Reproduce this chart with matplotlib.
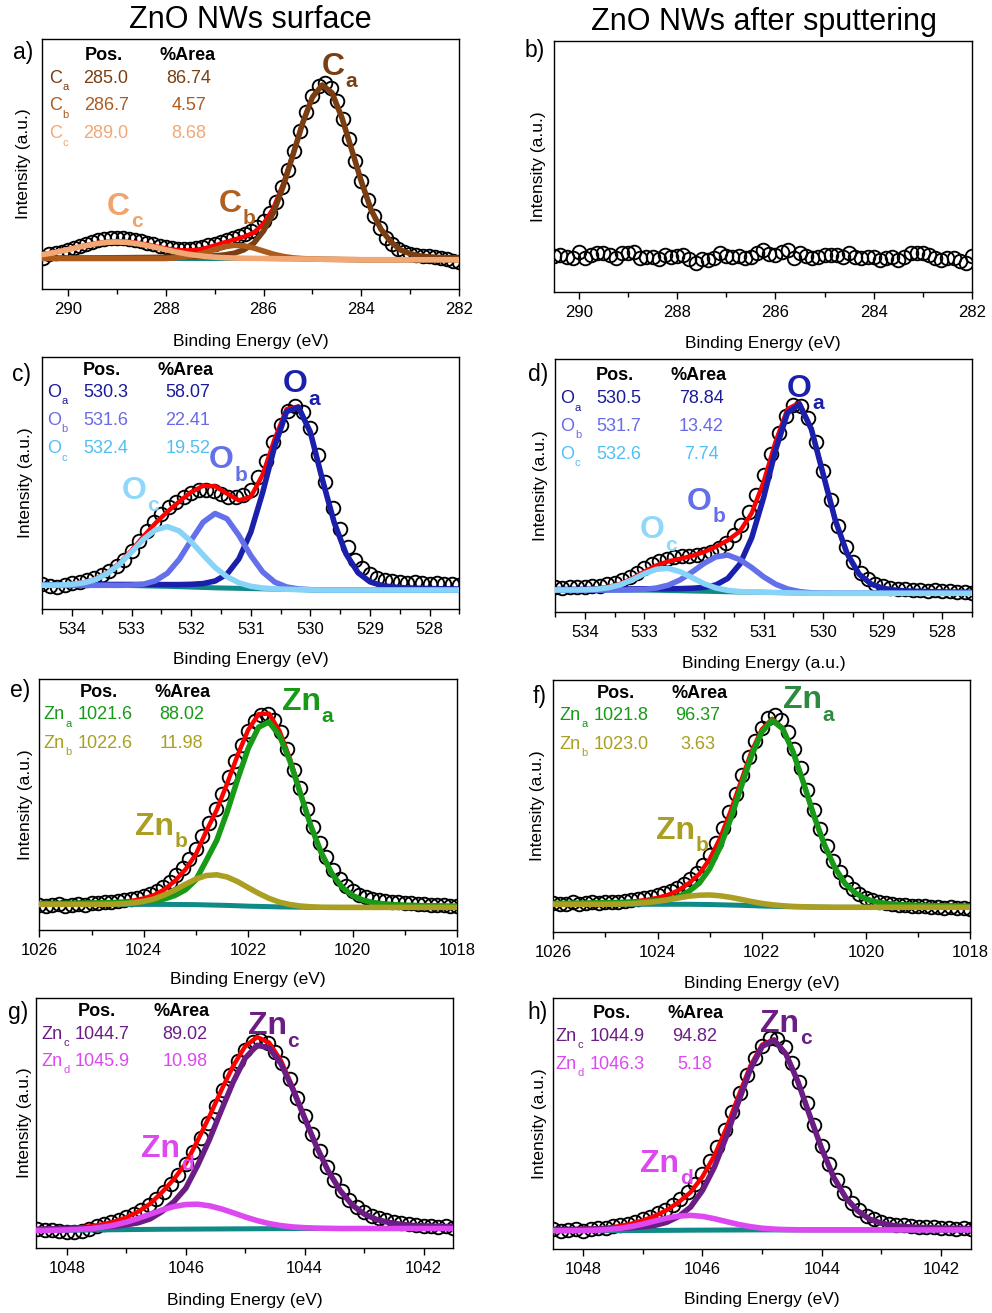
import numpy as np
import matplotlib
matplotlib.use("Agg")
from matplotlib import pyplot as plt
from matplotlib.ticker import MultipleLocator, FormatStrFormatter

plt.rcParams['font.family'] = ['Liberation Sans', 'DejaVu Sans']
plt.rcParams['mathtext.default'] = 'regular'

# intensities, in % of the panel height
# measured points every 0.125 eV, fitted curves every 0.2 eV (component height above background)

# a) C 1s, surface
a_circ_start = 290.5
a_circ = [12.6, 14.1, 14.3, 14.9, 15.6, 16.4, 17.3, 18.1, 18.9, 19.5, 19.9, 20.3, 20.4, 20.3, 20.0, 19.6,
          19.1, 18.5, 17.9, 17.3, 16.8, 16.4, 16.1, 16.0, 16.1, 16.4, 16.9, 17.5, 18.2, 18.9, 19.6, 20.4,
          21.1, 22.0, 23.2, 24.9, 27.3, 30.6, 35.0, 40.8, 47.5, 55.2, 63.4, 71.0, 77.3, 81.4, 82.6, 80.4,
          75.3, 68.2, 60.0, 51.4, 43.2, 35.8, 29.4, 24.3, 20.5, 17.9, 16.2, 15.0, 14.2, 13.7, 13.4, 13.1,
          12.8, 12.5, 12.0, 11.4, 11.0]
a_fit_start = 290.6
a_bg = [12.2, 12.2, 12.2, 12.2, 12.2, 12.2, 12.2, 12.2, 12.2, 12.2, 12.2, 12.2, 12.2, 12.2, 12.2, 12.2,
        12.2, 12.2, 12.2, 12.2, 12.2, 12.2, 12.2, 12.2, 12.15, 12.1, 12.05, 12.0, 11.95, 11.9, 11.85, 11.8,
        11.75, 11.7, 11.7, 11.7, 11.7, 11.7, 11.7, 11.7, 11.7, 11.7, 11.7, 11.7, 11.7]
a_Ca = [0.16, 0.17, 0.18, 0.2, 0.21, 0.23, 0.25, 0.27, 0.3, 0.33, 0.37, 0.4, 0.45, 0.5, 0.56, 0.63, 0.73,
        0.86, 1.08, 1.43, 2.1, 3.5, 6.1, 11.0, 18.3, 28.9, 41.5, 54.4, 64.8, 69.7, 66.6, 56.8, 44.1, 31.2,
        19.9, 12.2, 7.2, 3.9, 2.4, 1.5, 1.15, 0.9, 0.73, 0.65, 0.59]
a_Cb = [0, 0, 0, 0, 0, 0, 0, 0, 0, 0, 0, 0, 0, 0, 0.26, 0.64, 1.32, 2.35, 3.59, 4.7, 5.27, 5.08, 4.19,
        2.96, 1.79, 0.93, 0.41, 0.16, 0.05, 0, 0, 0, 0, 0, 0, 0, 0, 0, 0, 0, 0, 0, 0, 0, 0]
a_Cc = [1.32, 1.93, 2.67, 3.52, 4.41, 5.26, 5.97, 6.44, 6.6, 6.44, 5.97, 5.26, 4.41, 3.52, 2.67, 1.93,
        1.32, 0.86, 0.53, 0.31, 0.18, 0.1, 0.05, 0, 0, 0, 0, 0, 0, 0, 0, 0, 0, 0, 0, 0, 0, 0, 0, 0, 0, 0,
        0, 0, 0]
a_pos = ['285.0', '286.7', '289.0']
a_area = ['86.74', '4.57', '8.68']

# b) C 1s, after sputtering
b_circ_start = 290.5
b_circ = [14.5, 14.7, 14.1, 13.4, 16.1, 13.4, 14.7, 15.7, 15.7, 14.9, 13.4, 15.7, 15.7, 16.1, 13.4, 14.1,
          14.1, 13.0, 14.7, 14.1, 14.4, 14.7, 13.0, 11.4, 13.0, 12.7, 13.6, 15.7, 14.4, 14.1, 14.4, 13.4,
          14.1, 15.4, 16.7, 15.0, 14.7, 16.0, 16.7, 13.4, 15.4, 14.2, 13.4, 14.1, 14.7, 14.7, 14.6, 14.1,
          15.7, 14.1, 13.4, 14.1, 13.8, 12.7, 13.4, 14.1, 12.7, 14.1, 15.4, 15.7, 15.4, 14.6, 13.4, 12.7,
          13.6, 13.4, 12.2, 11.4, 14.4]

# c) O 1s, surface
c_circ_start = 534.5
c_circ = [9.8, 9.2, 8.9, 9.6, 10.3, 10.7, 11.4, 12.2, 13.4, 14.9, 17.0, 19.6, 23.0, 27.0, 30.9, 34.5,
          37.6, 40.3, 42.6, 44.6, 46.2, 47.1, 47.4, 46.8, 45.5, 44.6, 44.3, 45.2, 47.3, 52.3, 58.6, 66.2,
          73.1, 78.6, 80.7, 78.2, 72.0, 61.3, 50.4, 40.1, 31.6, 24.5, 19.6, 16.1, 13.8, 12.5, 11.6, 11.1,
          10.8, 10.5, 10.6, 10.2, 10.1, 10.3, 9.9, 9.8, 9.6]
c_fit_start = 534.6
c_bg = [9.4, 9.4, 9.4, 9.4, 9.4, 9.4, 9.4, 9.35, 9.3, 9.2, 9.1, 9.0, 8.85, 8.7, 8.55, 8.4, 8.3, 8.2, 8.1,
        8.0, 7.9, 7.8, 7.7, 7.6, 7.5, 7.5, 7.5, 7.5, 7.5, 7.5, 7.5, 7.5, 7.5, 7.5, 7.5, 7.5, 7.5]
c_Oa = [0.18, 0.19, 0.21, 0.23, 0.26, 0.29, 0.33, 0.38, 0.43, 0.51, 0.59, 0.69, 0.84, 1.1, 1.54, 2.7, 5.5,
        11.7, 22.4, 38.3, 56.6, 70.5, 72.4, 62.5, 44.0, 26.8, 14.3, 6.9, 3.3, 1.8, 1.19, 0.88, 0.73, 0.61,
        0.52, 0.45, 0.4]
c_Ob = [0, 0, 0, 0, 0, 0, 0, 0.04, 0.18, 0.65, 2.1, 5.2, 10.9, 18.6, 25.9, 29.5, 27.5, 21.0, 13.1, 6.7,
        2.8, 0.95, 0.27, 0.07, 0, 0, 0, 0, 0, 0, 0, 0, 0, 0, 0, 0, 0]
c_Oc = [0.02, 0.04, 0.12, 0.38, 1.0, 2.3, 4.8, 8.5, 13.4, 18.5, 22.3, 23.7, 22.1, 18.0, 12.9, 8.1, 4.5,
        2.2, 0.9, 0.33, 0.11, 0.03, 0, 0, 0, 0, 0, 0, 0, 0, 0, 0, 0, 0, 0, 0, 0]
c_pos = ['530.3', '531.6', '532.4']
c_area = ['58.07', '22.41', '19.52']

# d) O 1s, after sputtering
d_circ_start = 534.5
d_circ = [9.9, 9.6, 9.8, 9.7, 9.9, 10.2, 10.3, 10.9, 11.6, 12.6, 14.0, 15.6, 17.4, 18.9, 20.2, 21.1,
          21.7, 22.0, 22.3, 22.6, 23.0, 23.8, 25.2, 27.4, 30.3, 34.2, 39.6, 46.4, 54.0, 62.4, 70.6, 77.5,
          81.7, 81.6, 76.8, 67.2, 55.6, 44.1, 34.0, 25.8, 19.9, 15.6, 12.9, 11.2, 10.2, 9.6, 9.2, 9.0,
          8.7, 8.8, 8.4, 8.5, 8.2, 8.3, 7.9, 8.1, 7.7]
d_fit_start = 534.6
d_bg = [8.7, 8.7, 8.7, 8.7, 8.7, 8.7, 8.7, 8.68, 8.65, 8.6, 8.5, 8.4, 8.3, 8.2, 8.1, 8.0, 7.9, 7.85, 7.8,
        7.7, 7.6, 7.5, 7.4, 7.4, 7.4, 7.4, 7.4, 7.4, 7.4, 7.4, 7.4, 7.4, 7.4, 7.4, 7.4, 7.4, 7.4]
d_Oa = [0.2, 0.22, 0.24, 0.26, 0.3, 0.34, 0.38, 0.44, 0.51, 0.59, 0.69, 0.84, 1.09, 1.53, 2.6, 5.3, 11.0,
        21.5, 37.5, 56.3, 71.1, 74.6, 64.9, 46.9, 29.0, 15.7, 7.6, 3.7, 1.95, 1.25, 0.92, 0.76, 0.64,
        0.54, 0.47, 0.41, 0.36]
d_Ob = [0, 0, 0, 0, 0, 0, 0, 0.09, 0.3, 0.87, 2.1, 4.3, 7.5, 11.0, 13.7, 14.5, 12.8, 9.7, 6.1, 3.3, 1.5,
        0.58, 0.19, 0.05, 0, 0, 0, 0, 0, 0, 0, 0, 0, 0, 0, 0, 0]
d_Oc = [0, 0, 0, 0.09, 0.32, 0.92, 2.1, 4.1, 6.5, 8.3, 8.75, 7.5, 5.3, 3.0, 1.4, 0.55, 0.18, 0.05, 0, 0,
        0, 0, 0, 0, 0, 0, 0, 0, 0, 0, 0, 0, 0, 0, 0, 0, 0]
d_pos = ['530.5', '531.7', '532.6']
d_area = ['78.84', '13.42', '7.74']

# e) Zn 2p3/2, surface
e_circ_start = 1026.0
e_circ = [10.0, 9.6, 9.9, 10.3, 9.7, 10.1, 10.4, 10.0, 10.6, 10.9, 11.0, 11.3, 11.6, 11.9, 12.3, 12.9,
          13.5, 14.4, 15.6, 17.2, 19.3, 21.8, 24.8, 28.4, 32.4, 37.5, 42.8, 48.3, 54.3, 60.8, 67.4, 73.6,
          79.4, 83.4, 85.8, 86.1, 83.6, 78.7, 72.2, 63.9, 56.4, 48.4, 41.2, 34.5, 28.9, 24.1, 20.4, 17.5,
          15.5, 14.1, 13.0, 12.4, 11.9, 11.6, 11.2, 11.0, 10.9, 10.6, 10.5, 10.2, 10.1, 9.9, 9.8, 9.6, 9.4]
e_fit_start = 1026.2
e_bg = [10.2, 10.2, 10.2, 10.2, 10.2, 10.2, 10.2, 10.2, 10.2, 10.2, 10.2, 10.2, 10.2, 10.2, 10.18, 10.15,
        10.1, 10.0, 9.9, 9.8, 9.65, 9.5, 9.4, 9.3, 9.2, 9.15, 9.1, 9.05, 9.0, 9.0, 9.0, 9.0, 9.0, 9.0,
        9.0, 9.0, 9.0, 9.0, 9.0, 9.0, 9.0, 9.0, 9.0]
e_Zna = [0.3, 0.34, 0.37, 0.41, 0.45, 0.5, 0.56, 0.63, 0.71, 0.8, 0.94, 1.18, 1.53, 2.2, 3.6, 5.9, 9.9,
         17.8, 25.9, 37.4, 50.5, 62.8, 71.4, 73.6, 68.2, 58.2, 45.3, 32.4, 21.8, 13.6, 8.0, 4.7, 2.9, 1.9,
         1.4, 1.07, 0.87, 0.77, 0.67, 0.62, 0.54, 0.48, 0.43]
e_Znb = [0, 0, 0, 0, 0, 0, 0, 0.04, 0.1, 0.25, 0.58, 1.2, 2.2, 3.8, 5.8, 8.1, 10.2, 11.7, 12.1, 11.3, 9.6,
         7.4, 5.2, 3.3, 1.9, 0.98, 0.46, 0.19, 0.07, 0.02, 0, 0, 0, 0, 0, 0, 0, 0, 0, 0, 0, 0, 0]
e_pos = ['1021.6', '1022.6']
e_area = ['88.02', '11.98']

# f) Zn 2p3/2, after sputtering
f_circ_start = 1026.0
f_circ = [11.5, 11.0, 11.3, 11.8, 11.2, 11.6, 11.9, 11.4, 11.8, 12.1, 11.9, 12.2, 12.6, 12.9, 13.3, 13.9,
          14.5, 15.3, 16.3, 17.6, 19.2, 21.1, 23.5, 26.6, 30.4, 35.3, 41.1, 47.6, 54.8, 62.2, 69.4, 75.6,
          81.1, 84.8, 86.0, 84.2, 79.3, 72.8, 64.9, 56.3, 48.4, 40.8, 34.1, 28.2, 23.7, 19.8, 17.2, 15.1,
          13.6, 12.7, 12.0, 11.5, 11.2, 10.9, 10.7, 10.5, 10.2, 10.3, 9.9, 10.0, 9.6, 9.8, 9.5, 9.6, 9.3]
f_fit_start = 1026.2
f_bg = [11.0, 11.0, 11.0, 11.0, 11.0, 11.0, 11.0, 11.0, 11.0, 11.0, 11.0, 11.0, 11.0, 11.0, 11.0, 10.95,
        10.9, 10.8, 10.7, 10.6, 10.45, 10.3, 10.2, 10.1, 10.0, 9.95, 9.9, 9.85, 9.8, 9.8, 9.8, 9.8, 9.8,
        9.8, 9.8, 9.8, 9.8, 9.8, 9.8, 9.8, 9.8, 9.8, 9.8]
f_Zna = [0.32, 0.36, 0.39, 0.44, 0.49, 0.54, 0.61, 0.68, 0.77, 0.89, 1.1, 1.4, 1.9, 3.0, 5.1, 8.4, 14.2,
         22.8, 34.0, 46.7, 59.3, 69.0, 73.8, 70.6, 61.5, 49.3, 36.3, 24.9, 15.8, 9.4, 5.6, 3.3, 2.1, 1.5,
         1.14, 0.92, 0.8, 0.7, 0.63, 0.56, 0.5, 0.45, 0.41]
f_Znb = [0, 0, 0, 0, 0, 0, 0.03, 0.07, 0.17, 0.36, 0.68, 1.16, 1.8, 2.5, 3.2, 3.65, 3.8, 3.58, 3.06, 2.37,
         1.66, 1.05, 0.61, 0.32, 0.15, 0.06, 0, 0, 0, 0, 0, 0, 0, 0, 0, 0, 0, 0, 0, 0, 0, 0, 0]
f_pos = ['1021.8', '1023.0']
f_area = ['96.37', '3.63']

# g) Zn 2p1/2, surface
g_circ_start = 1048.5
g_circ = [7.6, 7.2, 7.4, 7.0, 6.6, 6.4, 6.9, 7.8, 8.9, 9.8, 10.5, 11.4, 12.5, 13.8, 15.3, 17.2, 19.6,
          22.4, 25.7, 29.4, 33.6, 38.6, 44.0, 50.2, 56.8, 63.2, 69.4, 74.8, 79.3, 82.3, 83.2, 82.0, 78.6,
          73.9, 67.5, 60.2, 52.9, 45.6, 38.7, 32.6, 27.4, 23.0, 19.3, 16.6, 14.4, 13.0, 11.9, 11.1, 10.5,
          10.0, 9.6, 9.3, 9.0, 8.9, 8.5, 8.7, 8.2]
g_fit_start = 1048.6
g_bg = [7.0, 7.0, 7.05, 7.1, 7.15, 7.2, 7.25, 7.3, 7.35, 7.4, 7.45, 7.5, 7.52, 7.55, 7.57, 7.6, 7.62,
        7.65, 7.67, 7.7, 7.72, 7.74, 7.76, 7.78, 7.8, 7.8, 7.8, 7.8, 7.8, 7.8, 7.8, 7.8, 7.8, 7.8, 7.8,
        7.8, 7.8]
g_Znc = [0.51, 0.57, 0.63, 0.71, 0.8, 0.92, 1.14, 1.4, 1.9, 2.7, 4.2, 7.1, 11.0, 16.4, 25.5, 35.9, 47.6,
         58.9, 68.3, 73.4, 72.4, 66.0, 55.8, 44.1, 32.7, 22.8, 15.1, 9.4, 5.8, 3.7, 2.5, 1.7, 1.26, 1.04,
         0.89, 0.78, 0.68]
g_Znd = [0, 0, 0.05, 0.13, 0.29, 0.58, 1.09, 1.88, 3.0, 4.44, 6.07, 7.71, 9.06, 9.86, 9.94, 9.27, 8.02,
         6.42, 4.75, 3.27, 2.07, 1.22, 0.67, 0.34, 0.16, 0.07, 0, 0, 0, 0, 0, 0, 0, 0, 0, 0, 0]
g_pos = ['1044.7', '1045.9']
g_area = ['89.02', '10.98']

# h) Zn 2p1/2, after sputtering
h_circ_start = 1048.5
h_circ = [7.9, 7.0, 7.5, 7.8, 7.3, 8.0, 8.4, 8.5, 9.0, 9.5, 10.1, 10.9, 11.8, 12.9, 14.2, 15.7, 17.6,
          19.8, 22.6, 26.0, 29.7, 34.9, 40.6, 47.3, 54.6, 62.1, 69.5, 75.9, 81.0, 84.0, 83.7, 80.4, 74.0,
          66.5, 58.0, 49.5, 41.2, 34.0, 27.6, 22.4, 18.5, 15.4, 13.3, 11.8, 10.8, 10.1, 9.6, 9.4, 9.0,
          8.9, 8.6, 8.7, 8.3, 8.4, 8.0, 8.2, 7.8]
h_fit_start = 1048.6
h_bg = [7.3, 7.3, 7.3, 7.3, 7.3, 7.3, 7.32, 7.35, 7.38, 7.4, 7.43, 7.46, 7.5, 7.52, 7.54, 7.56, 7.58,
        7.6, 7.6, 7.6, 7.6, 7.6, 7.6, 7.6, 7.6, 7.6, 7.6, 7.6, 7.6, 7.6, 7.6, 7.6, 7.6, 7.6, 7.6, 7.6, 7.6]
h_Znc = [0.44, 0.48, 0.54, 0.61, 0.68, 0.78, 0.91, 1.1, 1.44, 2.0, 3.2, 5.5, 9.2, 15.8, 25.1, 37.2, 50.9,
         63.9, 73.1, 75.6, 70.0, 59.0, 45.4, 32.2, 20.9, 12.9, 7.6, 4.3, 2.65, 1.75, 1.29, 1.02, 0.85,
         0.73, 0.65, 0.58, 0.52]
h_Znd = [0, 0, 0, 0.07, 0.18, 0.41, 0.85, 1.56, 2.55, 3.73, 4.86, 5.66, 5.9, 5.48, 4.54, 3.36, 2.22,
         1.32, 0.69, 0.32, 0.14, 0.05, 0, 0, 0, 0, 0, 0, 0, 0, 0, 0, 0, 0, 0, 0, 0]
h_pos = ['1044.9', '1046.3']
h_area = ['94.82', '5.18']

TEAL = '#0f8a86'
C_COL = ['#7a3e12', '#ad5b1d', '#f2a874']
O_LINE = ['#1a20ac', '#6470ea', '#88d3f8']
O_TEXT = ['#1a1a9a', '#6a6ae6', '#50c0f4']
ZN_AB = ['#179a17', '#aa9f22']
ZN_CD = ['#6b1d85', '#dd48f0']

W, H = 992.0, 1313.0


def energies(start, step, n):
    return start - step * np.arange(n)


def sub_label(ax, x, y, main, sub, color, size, subsize, dy, weight='normal', coords='data', va='baseline'):
    tr = ax.transData if coords == 'data' else ax.transAxes
    t = ax.text(x, y, main, color=color, fontsize=size, fontweight=weight, ha='left', va=va,
                transform=tr, zorder=12)
    ax.annotate(sub, xy=(1, 0), xycoords=t, xytext=(0.6, dy), textcoords='offset points',
                color=color, fontsize=subsize, fontweight=weight, ha='left', va='baseline', zorder=12)


def make_axes(px):
    l, r, t, b = px
    return fig.add_axes([l / W, 1 - b / H, (r - l) / W, (b - t) / H])


fig = plt.figure(figsize=(9.92, 13.13), dpi=100)

panels = [
    dict(px=(42.3, 459.3, 39, 289), xlim=(290.52, 282.0), major=2, minor=1,
         circ=(a_circ_start, a_circ), fit=(a_fit_start, a_bg, [a_Ca, a_Cb, a_Cc], C_COL),
         letter=('a)', 13, 53), ylab=-0.044, xlab=-0.211, xtext='Binding Energy (eV)',
         table=dict(names=['C', 'C', 'C'], subs=['a', 'b', 'c'], pos=a_pos, area=a_area, cols=C_COL,
                    x=(0.016, 0.153, 0.352, 0.148, 0.348), yh=0.933, yr=[0.843, 0.732, 0.62]),
         big=[('C', 'a', 284.81, 85.6, C_COL[0]), ('C', 'b', 286.92, 30.9, '#b0601e'),
              ('C', 'c', 289.2, 29.6, '#f0a36c')]),
    dict(px=(554.3, 972.0, 41, 292), xlim=(290.5, 282.0), major=2, minor=1,
         circ=(b_circ_start, b_circ), fit=None,
         letter=('b)', 525, 51), ylab=-0.039, xlab=-0.204, xtext='Binding Energy (eV)',
         table=None, big=[]),
    dict(px=(42.3, 459.3, 357, 609), xlim=(534.5, 527.5), major=1, minor=0.5,
         circ=(c_circ_start, c_circ), fit=(c_fit_start, c_bg, [c_Oa, c_Ob, c_Oc], O_LINE),
         letter=('c)', 12, 374), ylab=-0.040, xlab=-0.202, xtext='Binding Energy (eV)',
         table=dict(names=['O', 'O', 'O'], subs=['a', 'b', 'c'], pos=c_pos, area=c_area, cols=O_TEXT,
                    x=(0.011, 0.152, 0.349, 0.144, 0.343), yh=0.948, yr=[0.86, 0.747, 0.635]),
         big=[('O', 'a', 530.47, 86.0, O_LINE[0]), ('O', 'b', 531.71, 55.8, O_LINE[1]),
              ('O', 'c', 533.17, 43.7, '#8fd8fa')]),
    dict(px=(555.0, 972.3, 359, 612), xlim=(534.5, 527.5), major=1, minor=0.5,
         circ=(d_circ_start, d_circ), fit=(d_fit_start, d_bg, [d_Oa, d_Ob, d_Oc], O_LINE),
         letter=('d)', 528, 374), ylab=-0.035, xlab=-0.203, xtext='Binding Energy (a.u.)',
         table=dict(names=['O', 'O', 'O'], subs=['a', 'b', 'c'], pos=d_pos, area=d_area, cols=O_TEXT,
                    x=(0.012, 0.152, 0.35, 0.143, 0.344), yh=0.933, yr=[0.842, 0.732, 0.623]),
         big=[('O', 'a', 530.62, 85.1, O_LINE[0]), ('O', 'b', 532.29, 40.3, O_LINE[1]),
              ('O', 'c', 533.08, 29.1, '#8fd8fa')]),
    dict(px=(39.3, 457.0, 679, 930), xlim=(1026, 1018), major=2, minor=1,
         circ=(e_circ_start, e_circ), fit=(e_fit_start, e_bg, [e_Zna, e_Znb], ZN_AB),
         letter=('e)', 10, 691), ylab=-0.032, xlab=-0.199, xtext='Binding Energy (eV)',
         table=dict(names=['Zn', 'Zn'], subs=['a', 'b'], pos=e_pos, area=e_area, cols=ZN_AB,
                    x=(0.01, 0.157, 0.341, 0.143, 0.343), yh=0.947, yr=[0.857, 0.744]),
         big=[('Zn', 'a', 1021.36, 87.6, ZN_AB[0]), ('Zn', 'b', 1024.17, 37.8, ZN_AB[1])]),
    dict(px=(553.3, 970.2, 680, 932), xlim=(1026, 1018), major=2, minor=1,
         circ=(f_circ_start, f_circ), fit=(f_fit_start, f_bg, [f_Zna, f_Znb], ZN_AB),
         letter=('f)', 533, 696), ylab=-0.039, xlab=-0.204, xtext='Binding Energy (eV)',
         table=dict(names=['Zn', 'Zn'], subs=['a', 'b'], pos=f_pos, area=f_area, cols=ZN_AB,
                    x=(0.014, 0.162, 0.346, 0.15, 0.35), yh=0.947, yr=[0.858, 0.746]),
         big=[('Zn', 'a', 1021.6, 88.8, '#2b8a3e'), ('Zn', 'b', 1024.03, 36.9, ZN_AB[1])]),
    dict(px=(36.0, 453.3, 998, 1248), xlim=(1048.52, 1041.5), major=2, minor=1,
         circ=(g_circ_start, g_circ), fit=(g_fit_start, g_bg, [g_Znc, g_Znd], ZN_CD),
         letter=('g)', 8, 1012), ylab=-0.028, xlab=-0.208, xtext='Binding Energy (eV)',
         table=dict(names=['Zn', 'Zn'], subs=['c', 'd'], pos=g_pos, area=g_area, cols=ZN_CD,
                    x=(0.014, 0.159, 0.357, 0.147, 0.348), yh=0.948, yr=[0.855, 0.745]),
         big=[('Zn', 'c', 1044.96, 85.5, ZN_CD[0]), ('Zn', 'd', 1046.75, 36.3, ZN_CD[1])]),
    dict(px=(553.3, 971.0, 998, 1249), xlim=(1048.5, 1041.5), major=2, minor=1,
         circ=(h_circ_start, h_circ), fit=(h_fit_start, h_bg, [h_Znc, h_Znd], ZN_CD),
         letter=('h)', 527, 1013), ylab=-0.034, xlab=-0.203, xtext='Binding Energy (eV)',
         table=dict(names=['Zn', 'Zn'], subs=['c', 'd'], pos=h_pos, area=h_area, cols=ZN_CD,
                    x=(0.006, 0.153, 0.338, 0.14, 0.34), yh=0.939, yr=[0.846, 0.736]),
         big=[('Zn', 'c', 1045.03, 86.6, ZN_CD[0]), ('Zn', 'd', 1047.04, 30.8, ZN_CD[1])]),
]

for p in panels:
    ax = make_axes(p['px'])

    start, vals = p['circ']
    ax.plot(energies(start, 0.125, len(vals)), vals, 'o', ms=9.8, mfc='none', mec='black',
            mew=1.35, zorder=2)

    if p['fit'] is not None:
        fstart, bg, comps, cols = p['fit']
        ef = energies(fstart, 0.2, len(bg))
        bg = np.array(bg, dtype=float)
        envelope = bg.copy()
        for c in comps:
            envelope = envelope + np.array(c, dtype=float)
        ax.plot(ef, envelope, color='red', lw=3.2, zorder=3)
        ax.plot(ef, bg, color=TEAL, lw=3.6, zorder=4)
        for i, (c, col) in enumerate(zip(comps, cols)):
            ax.plot(ef, bg + np.array(c, dtype=float), color=col, lw=4.0, zorder=5 + i)

    ax.set_xlim(*p['xlim'])
    ax.set_ylim(0, 100)
    ax.set_yticks([])
    ax.xaxis.set_major_locator(MultipleLocator(p['major']))
    ax.xaxis.set_minor_locator(MultipleLocator(p['minor']))
    ax.xaxis.set_major_formatter(FormatStrFormatter('%.0f'))
    ax.tick_params(axis='x', which='major', direction='out', length=5, width=1.0, labelsize=12, pad=4.5)
    ax.tick_params(axis='x', which='minor', direction='out', length=3.5, width=1.0)
    for s in ax.spines.values():
        s.set_linewidth(1.0)

    ax.set_xlabel(p['xtext'], fontsize=12.5, va='center')
    ax.xaxis.set_label_coords(0.5, p['xlab'])
    ax.set_ylabel('Intensity (a.u.)', fontsize=12.5, va='center')
    ax.yaxis.set_label_coords(p['ylab'], 0.5)

    lt, lx, ly = p['letter']
    fig.text(lx / W, 1 - ly / H, lt, fontsize=16.5, ha='left', va='center')

    tb = p['table']
    if tb is not None:
        xn, xp, xa, xph, xah = tb['x']
        ax.text(xph, tb['yh'], 'Pos.', transform=ax.transAxes, fontsize=13, fontweight='bold',
                ha='center', va='center', zorder=12)
        ax.text(xah, tb['yh'], '%Area', transform=ax.transAxes, fontsize=13, fontweight='bold',
                ha='center', va='center', zorder=12)
        for name, sub, pos, area, col, y in zip(tb['names'], tb['subs'], tb['pos'], tb['area'],
                                                 tb['cols'], tb['yr']):
            sub_label(ax, xn, y, name, sub, col, 13, 8, -2.3, coords='axes', va='center')
            ax.text(xp, y, pos, transform=ax.transAxes, fontsize=13, color=col, ha='center',
                    va='center', zorder=12)
            ax.text(xa, y, area, transform=ax.transAxes, fontsize=13, color=col, ha='center',
                    va='center', zorder=12)

    for main, sub, x, y, col in p['big']:
        sub_label(ax, x, y, main, sub, col, 23, 15, -3.8, weight='bold')

fig.text(250 / W, 1 - 20 / H, 'ZnO NWs surface', fontsize=22, ha='center', va='center')
fig.text(764 / W, 1 - 22 / H, 'ZnO NWs after sputtering', fontsize=22, ha='center', va='center')

fig.savefig('out.png', dpi=100)
